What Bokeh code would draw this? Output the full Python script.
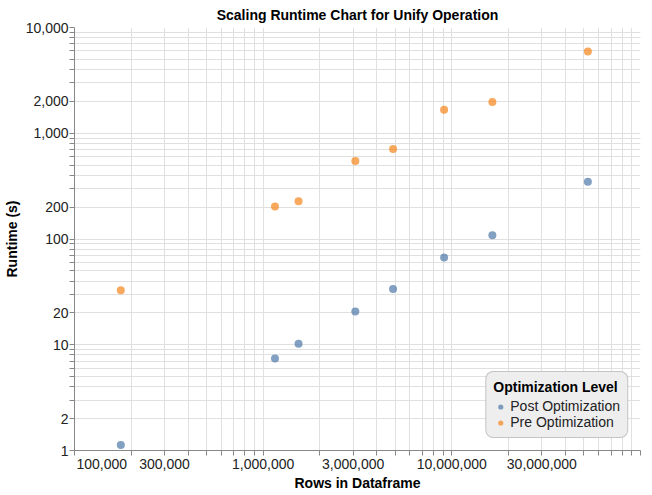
from bokeh.plotting import figure
from bokeh.models import (Range1d, FixedTicker, NumeralTickFormatter, CustomJSTickFormatter,
                          Legend, LegendItem, ColumnDataSource)
from bokeh.embed import file_html
from bokeh.resources import INLINE

# ---- data ----
rows = [176000, 1155000, 1540000, 3080000, 4880000, 9100000, 16400000, 52600000]
pre_opt = [32.7, 203, 228, 547, 709, 1668, 1972, 5918]
post_opt = [1.13, 7.43, 10.2, 20.6, 33.6, 66.7, 108.6, 348]

x_labeled = [100000, 300000, 1000000, 3000000, 10000000, 30000000]
y_labeled = [1, 2, 10, 20, 100, 200, 1000, 2000, 10000]
x_domain = (100000, 100000000)
y_domain = (1, 10000)

FONT = "Liberation Sans"
GRID = "#e0e0e0"
AXIS = "#888888"

def all_multiples(lo, hi):
    out = []
    dec = lo
    while dec <= hi:
        for m in range(1, 10):
            t = m * dec
            if lo <= t <= hi:
                out.append(t)
        dec *= 10
    return sorted(set(out))

x_minor = [t for t in all_multiples(*x_domain) if t not in x_labeled]
y_minor = [t for t in all_multiples(*y_domain) if t not in y_labeled]

src = ColumnDataSource(dict(rows=rows, pre=pre_opt, post=post_opt))

p = figure(frame_width=566, frame_height=423, x_axis_type="log", y_axis_type="log",
           x_range=Range1d(*x_domain), y_range=Range1d(*y_domain),
           output_backend="svg", toolbar_location=None,
           title="Scaling Runtime Chart for Unify Operation",
           min_border_left=68, min_border_right=2, min_border_top=0, min_border_bottom=0)
p.outline_line_color = None
p.background_fill_color = "white"

p.title.align = "center"
p.title.text_font = FONT
p.title.text_font_size = "14px"
p.title.text_font_style = "bold"
p.title.text_color = "#000000"
p.title.standoff = 9

p.xaxis.ticker = FixedTicker(ticks=x_labeled, minor_ticks=x_minor)
p.yaxis.ticker = FixedTicker(ticks=y_labeled, minor_ticks=y_minor)
# first label is drawn flush with the left edge (as in the reference)
p.xaxis.formatter = CustomJSTickFormatter(code="""
const s = Math.round(tick).toLocaleString('en-US');
return (tick <= 100000) ? '\\u2007'.repeat(7) + s : s;
""")
p.yaxis.formatter = NumeralTickFormatter(format="0,0")

for ax in (p.xaxis, p.yaxis):
    ax.axis_line_color = AXIS
    ax.major_tick_line_color = AXIS
    ax.minor_tick_line_color = AXIS
    ax.major_tick_out = 5
    ax.minor_tick_out = 5
    ax.major_tick_in = 0
    ax.minor_tick_in = 0
    ax.major_label_text_font = FONT
    ax.major_label_text_font_size = "14px"
    ax.major_label_text_color = "#222222"
    ax.major_label_text_line_height = 1.0
    ax.axis_label_text_font = FONT
    ax.axis_label_text_font_size = "14px"
    ax.axis_label_text_font_style = "bold"
    ax.axis_label_text_color = "#000000"
    ax.axis_label_text_line_height = 1.0

p.xaxis.major_label_standoff = 0
p.xaxis.axis_label_standoff = 0
p.yaxis.major_label_standoff = 1
p.yaxis.axis_label_standoff = 3

p.xaxis.axis_label = "Rows in Dataframe"
p.yaxis.axis_label = "Runtime (s)"

for g in (p.xgrid, p.ygrid):
    g.grid_line_color = GRID
    g.minor_grid_line_color = GRID

r_post = p.scatter(x="rows", y="post", source=src, size=8, fill_color="#4c78a8",
                   fill_alpha=0.7, line_color=None)
r_pre = p.scatter(x="rows", y="pre", source=src, size=8, fill_color="#f58518",
                  fill_alpha=0.7, line_color=None)

legend = Legend(items=[LegendItem(label="Post Optimization", renderers=[r_post]),
                       LegendItem(label="Pre Optimization", renderers=[r_pre])],
                title="Optimization Level", location="bottom_right")
legend.title_text_font = FONT
legend.title_text_font_size = "14px"
legend.title_text_font_style = "bold"
legend.title_text_color = "#000000"
legend.label_text_font = FONT
legend.label_text_font_size = "14px"
legend.label_text_color = "#222222"
legend.label_text_line_height = 1.0
legend.title_text_line_height = 1.0
legend.background_fill_color = "#eeeeee"
legend.background_fill_alpha = 1.0
legend.border_line_color = "#999999"
legend.padding = 7
legend.spacing = 0
legend.margin = 12
legend.glyph_width = 14
legend.glyph_height = 13
legend.label_height = 13
legend.label_standoff = 3
legend.title_standoff = 3
try:
    legend.border_radius = 8
except Exception:
    pass
p.add_layout(legend)

open("out.html", "w").write(file_html(p, INLINE))
